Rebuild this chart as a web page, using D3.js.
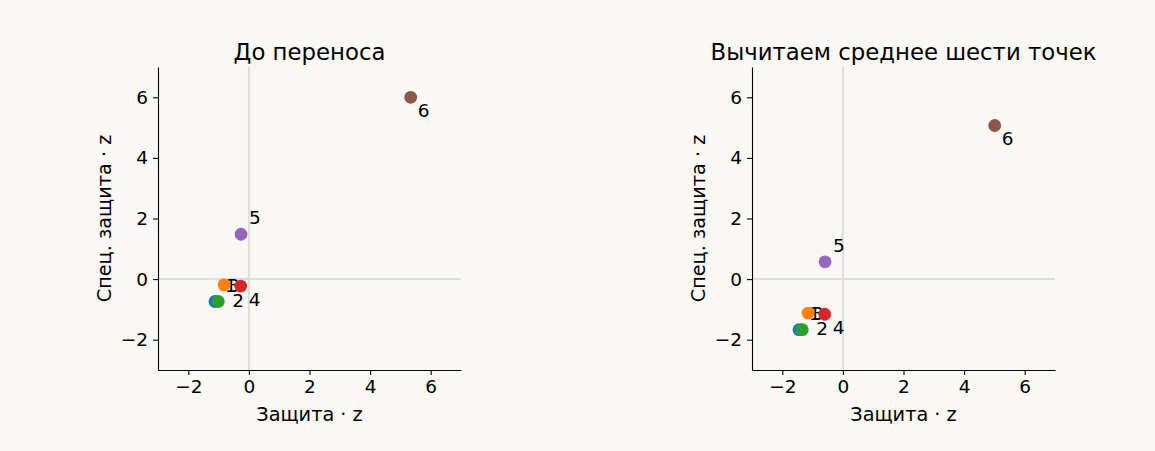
<!DOCTYPE html>
<html>
<head>
<meta charset="utf-8">
<script src="https://cdn.jsdelivr.net/npm/d3@7"></script>
<style>
  html, body { margin: 0; padding: 0; background: #f9f8f5; }
  svg { display: block; font-family: "DejaVu Sans", sans-serif; }
  .tick text { font-family: "DejaVu Sans", sans-serif; font-size: 18.5px; fill: #000; }
  .tick line, .domain { stroke: #000; stroke-width: 1.1; }
</style>
</head>
<body>
<div id="chart"></div>
<script>
// point ids and colours (tab10)
const pointIds = ["1", "2", "3", "4", "5", "6"];
const pointColors = ["#1f77b4", "#2ca02c", "#ff7f0e", "#d62728", "#9467bd", "#8c564b"];

// left panel: raw values
const rawX = [-1.12, -1.01, -0.82, -0.27, -0.26, 5.34];
const rawY = [-0.74, -0.74, -0.19, -0.23, 1.48, 6.0];

// right panel: after subtracting the mean of the six points
const centeredX = [-1.45, -1.34, -1.15, -0.60, -0.59, 5.01];
const centeredY = [-1.67, -1.67, -1.12, -1.16, 0.57, 5.07];

const panelTitles = ["До переноса", "Вычитаем среднее шести точек"];
const xLabel = "Защита · z";
const yLabel = "Спец. защита · z";
const axisTicks = [-2, 0, 2, 4, 6];

// label nudges in px, per point
const labelDx = [10, 14, 4, 8, 8, 7];
const labelDy = [-10, 5, 7, 20, -10, 20];

const W = 1155, H = 451;
const svg = d3.select("#chart").append("svg")
    .attr("width", W)
    .attr("height", H);

const panels = [
    { left: 158, title: panelTitles[0], xs: rawX, ys: rawY },
    { left: 752, title: panelTitles[1], xs: centeredX, ys: centeredY }
];
const plotTop = 67, plotW = 303, plotH = 303;

panels.forEach(p => {
    const g = svg.append("g").attr("transform", `translate(${p.left}, ${plotTop})`);

    const x = d3.scaleLinear().domain([-3, 7]).range([0, plotW]);
    const y = d3.scaleLinear().domain([-3, 7]).range([plotH, 0]);

    // zero lines
    g.append("line")
        .attr("x1", x(0)).attr("x2", x(0))
        .attr("y1", 0).attr("y2", plotH)
        .attr("stroke", "#dddddd").attr("stroke-width", 2);
    g.append("line")
        .attr("x1", 0).attr("x2", plotW)
        .attr("y1", y(0)).attr("y2", y(0))
        .attr("stroke", "#dddddd").attr("stroke-width", 2);

    // axes
    const fmt = d => d < 0 ? "\u2212" + Math.abs(d) : d;
    g.append("g")
        .attr("transform", `translate(0, ${plotH})`)
        .call(d3.axisBottom(x).tickValues(axisTicks).tickFormat(fmt).tickSize(5).tickPadding(5).tickSizeOuter(0));
    g.append("g")
        .call(d3.axisLeft(y).tickValues(axisTicks).tickFormat(fmt).tickSize(5).tickPadding(5).tickSizeOuter(0));

    // axis labels
    g.append("text")
        .attr("x", plotW / 2)
        .attr("y", plotH + 51)
        .attr("text-anchor", "middle")
        .style("font-size", "19.3px")
        .text(xLabel);
    g.append("text")
        .attr("transform", `translate(-47, ${plotH / 2}) rotate(-90)`)
        .attr("text-anchor", "middle")
        .style("font-size", "19.3px")
        .text(yLabel);

    // title
    g.append("text")
        .attr("x", plotW / 2)
        .attr("y", -7)
        .attr("text-anchor", "middle")
        .style("font-size", "22.8px")
        .text(p.title);

    const pts = pointIds.map((id, i) => ({ id, cx: p.xs[i], cy: p.ys[i], color: pointColors[i], dx: labelDx[i], dy: labelDy[i] }));

    // labels
    g.selectAll(".lbl")
        .data(pts)
        .enter().append("text")
        .attr("class", "lbl")
        .attr("x", d => x(d.cx) + d.dx)
        .attr("y", d => y(d.cy) + d.dy)
        .style("font-size", "18.5px")
        .text(d => d.id);

    // points
    g.selectAll(".pt")
        .data(pts)
        .enter().append("circle")
        .attr("class", "pt")
        .attr("cx", d => x(d.cx))
        .attr("cy", d => y(d.cy))
        .attr("r", 6.4)
        .attr("fill", d => d.color);
});
</script>
</body>
</html>
